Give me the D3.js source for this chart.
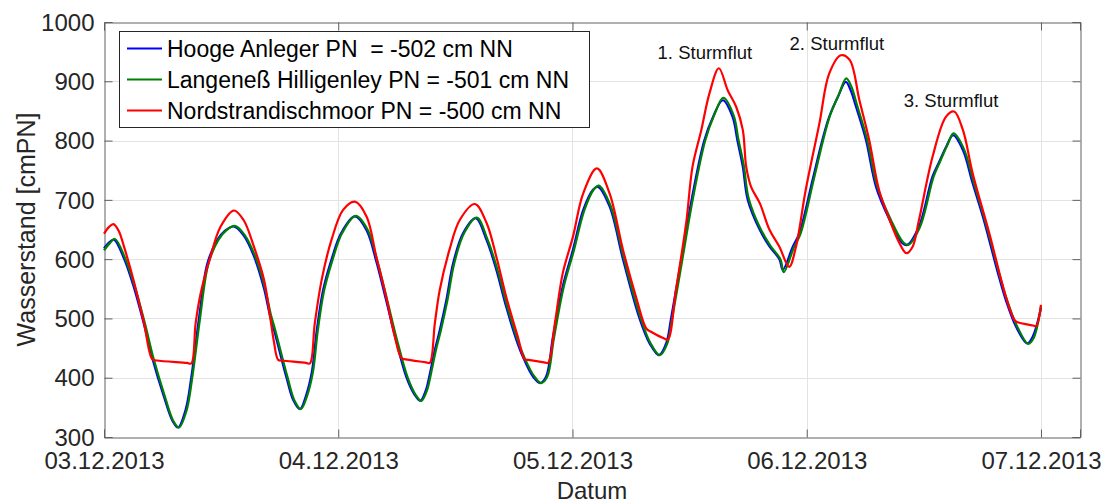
<!DOCTYPE html>
<html><head><meta charset="utf-8">
<script src="https://cdn.jsdelivr.net/npm/d3@7"></script>
<style>
html,body{margin:0;padding:0;background:#fff;}
svg text{font-family:"Liberation Sans",Arial,Helvetica,sans-serif;}
</style></head>
<body>
<svg id="chart" width="1109" height="504"></svg>
<script>
// ---- data (hours since 03.12.2013 00:00, water level in cmPN) ----
const seriesNames = ["Hooge Anleger PN  = -502 cm NN","Langeneß Hilligenley PN = -501 cm NN","Nordstrandischmoor PN = -500 cm NN"];
const seriesColors = ["#0000ff","#008000","#ff0000"];

const hoogeHours = [0,0.5,1.02,2.05,3.07,4.1,4.95,6.14,7.0,7.58,8.36,8.94,9.73,10.58,11.6,12.4,13.3,14.3,15.36,16.4,17.0,17.4,18.7,19.4,20.07,20.7,21.3,21.8,22.45,23.3,24.3,25.7,26.9,27.9,28.9,29.9,31.0,31.8,32.42,33.0,33.3,33.9,34.4,35.08,35.77,36.8,38.09,39.2,40.2,41.2,42.25,42.9,43.95,44.7,45.3,46.0,47.0,48.05,49.1,50.1,50.6,51.8,53.17,54.87,55.9,56.86,57.6,58.1,59.15,60.2,61.5,62.4,63.4,64.4,64.9,65.45,65.96,67.2,68.2,69.2,69.55,70.57,71.25,72.6,73.6,74.3,75.2,76.0,76.5,77.05,78.07,79.1,80.5,81.8,82.3,83.5,84.9,85.6,86.3,87.0,88.0,89.0,90.04,90.7,91.7,92.4,93.45,94.6,95.15,96.0];
const hoogeValues = [618,628,633,601,552,490,433,368,328,316,346,400,500,592,632,648,655,640,605,550,505,482,400,362,347,370,410,480,548,599,644,672,649,596,531,464,400,372,361,380,400,447,480,531,593,644,669,632,582,520,464,436,402,391,402,469,554,616,683,717,722,689,600,500,458,438,458,500,600,700,800,840,868,840,800,756,700,649,621,600,582,621,644,734,801,840,874,899,885,857,801,722,666,627,624,655,740,765,790,809,784,728,672,632,570,531,486,458,469,517];

const langenessHours = [0,0.6,1.12,2.15,3.17,4.2,5.05,6.24,7.1,7.68,8.46,9.04,9.83,10.68,11.7,12.5,13.4,14.4,15.46,16.5,17.1,17.5,18.8,19.5,20.17,20.8,21.4,21.9,22.55,23.4,24.4,25.8,27.0,28.0,29.0,30.0,31.1,31.9,32.52,33.1,33.4,34.0,34.5,35.18,35.87,36.9,38.19,39.3,40.3,41.3,42.35,43.0,44.05,44.8,45.4,46.1,47.1,48.15,49.2,50.2,50.7,51.9,53.27,54.97,56.0,56.96,57.7,58.2,59.25,60.3,61.6,62.5,63.45,64.5,65.0,65.55,66.06,67.3,68.3,69.3,69.65,70.67,71.35,72.7,73.7,74.4,75.3,76.05,76.6,77.15,78.17,79.2,80.6,81.9,82.4,83.6,85.0,85.7,86.4,87.05,88.1,89.1,90.14,90.8,91.8,92.5,93.55,94.7,95.25,96.0];
const langenessValues = [615,627,634,602,553,491,434,368,327,316,345,400,499,591,632,648,656,641,606,551,506,483,401,362,347,369,409,479,547,598,644,673,650,597,532,465,401,372,361,379,399,446,479,530,592,644,670,633,583,521,465,437,403,391,401,467,553,615,682,718,724,690,601,501,458,438,457,499,599,699,800,842,872,843,802,758,702,650,622,600,578,619,642,733,802,843,878,905,890,860,803,724,667,628,624,654,739,766,792,812,786,730,673,633,571,532,487,457,467,520];

const nordHours = [0,0.5,0.96,1.5,2.05,3.07,4.1,4.95,5.4,8.5,8.94,9.39,9.9,10.9,11.95,13.3,14.3,15.36,16.4,17.0,17.4,17.85,18.3,20.7,21.1,21.6,22.3,23.3,24.5,25.7,26.9,27.9,28.9,29.8,30.48,30.9,33.0,33.38,33.9,34.4,35.4,36.45,38.0,39.2,40.2,41.2,42.4,43.1,43.5,45.1,45.5,46.2,47.0,48.05,49.1,50.5,51.8,53.17,54.5,55.56,56.0,57.4,57.77,58.6,59.65,60.3,61.2,62.04,63.0,63.9,64.77,65.45,65.8,66.3,67.2,68.2,69.2,70.2,70.9,71.9,73.3,74.3,75.5,76.4,77.4,78.4,79.4,80.5,81.5,82.2,82.85,83.5,84.9,86.26,87.1,88.0,89.0,90.7,92.4,93.3,93.7,95.2,95.5,96.0];
const nordValues = [643,654,659,648,621,562,492,431,429,425,424,492,542,604,655,682,666,621,565,505,462,430,429,425,424,492,565,632,683,697,672,604,537,469,433,431,426,425,492,548,616,666,693,661,604,537,469,431,430,426,425,492,576,638,711,753,711,616,537,483,478,466,464,548,661,756,818,880,922,885,857,818,756,722,694,649,621,587,621,717,829,913,944,936,868,801,717,666,627,610,621,666,773,840,849,818,745,644,537,497,493,488,487,523];

const yTicks = [300,400,500,600,700,800,900,1000];
const xTickDays = ["2013-12-03","2013-12-04","2013-12-05","2013-12-06","2013-12-07"];
const annotations = [
  {label:"1. Sturmflut", hour:63.0, value:922},
  {label:"2. Sturmflut", hour:75.5, value:944},
  {label:"3. Sturmflut", hour:87.1, value:849}
];

// ---- layout ----
const svg = d3.select("#chart");
const L = 104, R = 1080, T = 22, B = 437;
const t0 = new Date(2013, 11, 3, 0, 0);
const toDate = h => new Date(t0.getTime() + h * 3600e3);
const x = d3.scaleTime().domain([t0, toDate(100)]).range([L, R]);
const y = d3.scaleLinear().domain([300, 1000]).range([B, T]);
const parseDay = d3.timeParse("%Y-%m-%d");
const xTicks = xTickDays.map(parseDay);
const fmt = d3.timeFormat("%d.%m.%Y");

// grid
const g = svg.append("g");
g.selectAll(".gy").data(yTicks.slice(1, -1)).join("line")
  .attr("x1", L).attr("x2", R).attr("y1", d => Math.round(y(d)) + 0.5).attr("y2", d => Math.round(y(d)) + 0.5)
  .attr("stroke", "#e3e3e3").attr("stroke-width", 1);
g.selectAll(".gx").data(xTicks.slice(1)).join("line")
  .attr("x1", d => Math.round(x(d)) + 0.5).attr("x2", d => Math.round(x(d)) + 0.5)
  .attr("y1", T).attr("y2", B)
  .attr("stroke", "#e3e3e3").attr("stroke-width", 1);

// axes (inward ticks, MATLAB style)
const axColor = "#606060";
const axL = svg.append("g").attr("transform", `translate(${L + 0.5},0)`)
  .call(d3.axisLeft(y).tickValues(yTicks).tickFormat(d3.format("d")).tickSize(-8).tickPadding(10));
const axR = svg.append("g").attr("transform", `translate(${R + 0.5},0)`)
  .call(d3.axisRight(y).tickValues(yTicks).tickSize(-8).tickFormat(""));
const axB = svg.append("g").attr("transform", `translate(0,${B + 0.5})`)
  .call(d3.axisBottom(x).tickValues(xTicks).tickFormat(fmt).tickSize(-8).tickPadding(15));
const axT = svg.append("g").attr("transform", `translate(0,${T + 0.5})`)
  .call(d3.axisTop(x).tickValues(xTicks).tickFormat("").tickSize(-8));
[axL, axR, axB, axT].forEach(a => {
  a.select(".domain").attr("stroke", axColor);
  a.selectAll(".tick line").attr("stroke", axColor);
  a.selectAll(".tick text").attr("fill", "#262626").style("font-size", "24px")
   .style("font-family", '"Liberation Sans",Arial,sans-serif');
});
axB.selectAll(".tick text").attr("dy", "0.68em");
axL.selectAll(".tick text").attr("dy", "0.34em");

// lines
const seriesData = [
  hoogeHours.map((h, i) => [h, hoogeValues[i]]),
  langenessHours.map((h, i) => [h, langenessValues[i]]),
  nordHours.map((h, i) => [h, nordValues[i]])
];
const line = d3.line().x(d => x(toDate(d[0]))).y(d => y(d[1])).curve(d3.curveCatmullRom.alpha(0.5));
svg.append("g").selectAll("path").data(seriesData).join("path")
  .attr("d", line).attr("fill", "none")
  .attr("stroke", (d, i) => seriesColors[i]).attr("stroke-width", 2.2)
  .attr("stroke-linejoin", "round");

// annotations
svg.append("g").selectAll("text").data(annotations).join("text")
  .attr("x", d => x(toDate(d.hour)))
  .attr("y", (d, i) => [59, 50, 107][i])
  .attr("text-anchor", "middle")
  .attr("dx", (d, i) => [-14, -4, -3][i])
  .style("font-size", "18.5px").attr("fill", "#111")
  .text(d => d.label);

// axis labels
svg.append("text").attr("x", 592).attr("y", 499).attr("text-anchor", "middle")
  .style("font-size", "24px").attr("fill", "#262626").text("Datum");
svg.append("text").attr("transform", `translate(35,${(T + B) / 2}) rotate(-90)`)
  .attr("text-anchor", "middle").style("font-size", "25px").attr("fill", "#262626")
  .text("Wasserstand [cmPN]");

// legend
const lg = svg.append("g");
lg.append("rect").attr("x", 119.5).attr("y", 31.5).attr("width", 470).attr("height", 96)
  .attr("fill", "#fff").attr("stroke", "#262626").attr("stroke-width", 1);
seriesNames.forEach((n, i) => {
  const cy = 48.5 + i * 31;
  lg.append("line").attr("x1", 127).attr("x2", 162).attr("y1", cy).attr("y2", cy)
    .attr("stroke", seriesColors[i]).attr("stroke-width", 2.2);
  lg.append("text").attr("x", 167).attr("y", cy + 8.5).style("font-size", "23px")
    .attr("fill", "#000").style("white-space", "pre").attr("xml:space", "preserve").text(n);
});
</script>
</body></html>
